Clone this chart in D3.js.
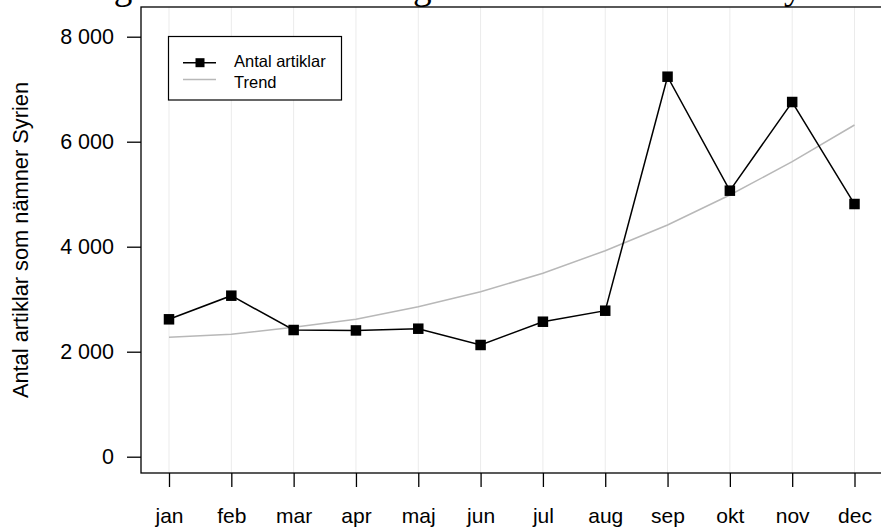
<!DOCTYPE html>
<html>
<head>
<meta charset="utf-8">
<script src="https://cdn.jsdelivr.net/npm/d3@7"></script>
<style>
  html, body { margin: 0; padding: 0; background: #fff; }
  svg { display: block; }
</style>
</head>
<body>
<svg id="chart" width="881" height="527"></svg>
<script>
const months = ["jan","feb","mar","apr","maj","jun","jul","aug","sep","okt","nov","dec"];
const articles = [2617, 3067, 2413, 2405, 2438, 2128, 2571, 2781, 7238, 5067, 6756, 4813];
const trend = [2274, 2331, 2465, 2617, 2857, 3143, 3493, 3924, 4413, 4985, 5619, 6318];
const yTicks = [0, 2000, 4000, 6000, 8000];
const titleText = "Utveckling av mediebevakningen i svensk media om Syrien 2013";
const yTitle = "Antal artiklar som nämner Syrien";
const legendLabels = ["Antal artiklar", "Trend"];

const svg = d3.select("#chart");
const sans = "'Liberation Sans', Arial, Helvetica, sans-serif";
const serif = "'Liberation Serif', 'Times New Roman', serif";

const box = {left: 141, top: 7, bottom: 473, right: 910};
const x = d3.scalePoint().domain(months).range([169, 854.5]);
const y = d3.scaleLinear().domain([0, 8000]).range([456.7, 36.7]);

// title (cut off at top, as in the reference)
svg.append("text")
  .attr("x", -33).attr("y", -1)
  .attr("font-family", serif).attr("font-size", 37.2)
  .attr("fill", "#000")
  .text(titleText);

// grid lines
svg.append("g").selectAll("line").data(months).join("line")
  .attr("x1", d => x(d)).attr("x2", d => x(d))
  .attr("y1", box.top).attr("y2", box.bottom)
  .attr("stroke", "#ebebeb").attr("stroke-width", 1);

// plot box
svg.append("rect")
  .attr("x", box.left).attr("y", box.top)
  .attr("width", box.right - box.left).attr("height", box.bottom - box.top)
  .attr("fill", "none").attr("stroke", "#000").attr("stroke-width", 1.3);

// y axis
const fmt = d => d3.format(",")(d).replace(/,/g, " ");
const yAxis = svg.append("g").attr("transform", `translate(${box.left},0)`)
  .call(d3.axisLeft(y).tickValues(yTicks).tickSize(14).tickPadding(13).tickFormat(fmt));
yAxis.select(".domain").remove();
yAxis.selectAll("line").attr("stroke", "#000").attr("stroke-width", 1.3);
yAxis.selectAll("text").attr("font-family", sans).attr("font-size", 21.5).attr("fill", "#000");

// x axis
const xAxis = svg.append("g").attr("transform", `translate(0,${box.bottom})`)
  .call(d3.axisBottom(x).tickSize(14).tickPadding(21));
xAxis.select(".domain").remove();
xAxis.selectAll("line").attr("stroke", "#000").attr("stroke-width", 1.3);
xAxis.selectAll("text").attr("font-family", sans).attr("font-size", 21).attr("fill", "#000");

// y title
svg.append("text")
  .attr("transform", `translate(28,240) rotate(-90)`)
  .attr("text-anchor", "middle")
  .attr("font-family", sans).attr("font-size", 21.8).attr("fill", "#000")
  .text(yTitle);

// trend line
const line = d3.line().x((d, i) => x(months[i])).y(d => y(d));
svg.append("path").datum(trend)
  .attr("d", line).attr("fill", "none")
  .attr("stroke", "#b8b8b8").attr("stroke-width", 1.5);

// article line
svg.append("path").datum(articles)
  .attr("d", line).attr("fill", "none")
  .attr("stroke", "#000").attr("stroke-width", 1.5);

const ms = 10.5;
svg.append("g").selectAll("rect").data(articles).join("rect")
  .attr("x", (d, i) => x(months[i]) - ms / 2)
  .attr("y", d => y(d) - ms / 2)
  .attr("width", ms).attr("height", ms)
  .attr("fill", "#000");

// legend
const lg = svg.append("g");
lg.append("rect").attr("x", 168.5).attr("y", 36.5).attr("width", 173).attr("height", 63.5)
  .attr("fill", "#fff").attr("stroke", "#000").attr("stroke-width", 1.2);
const rows = [62.7, 79.5];
const textRows = [67, 87.5];
const lms = 9;
lg.append("line").attr("x1", 183).attr("x2", 216).attr("y1", rows[0]).attr("y2", rows[0])
  .attr("stroke", "#000").attr("stroke-width", 1.5);
lg.append("rect").attr("x", 200 - lms / 2).attr("y", rows[0] - lms / 2)
  .attr("width", lms).attr("height", lms).attr("fill", "#000");
lg.append("line").attr("x1", 183).attr("x2", 216).attr("y1", rows[1]).attr("y2", rows[1])
  .attr("stroke", "#b8b8b8").attr("stroke-width", 1.5);
lg.selectAll("text.lab").data(legendLabels).join("text")
  .attr("class", "lab")
  .attr("x", 234).attr("y", (d, i) => textRows[i])
  .attr("font-family", sans).attr("font-size", 16.5).attr("fill", "#000")
  .text(d => d);
</script>
</body>
</html>
